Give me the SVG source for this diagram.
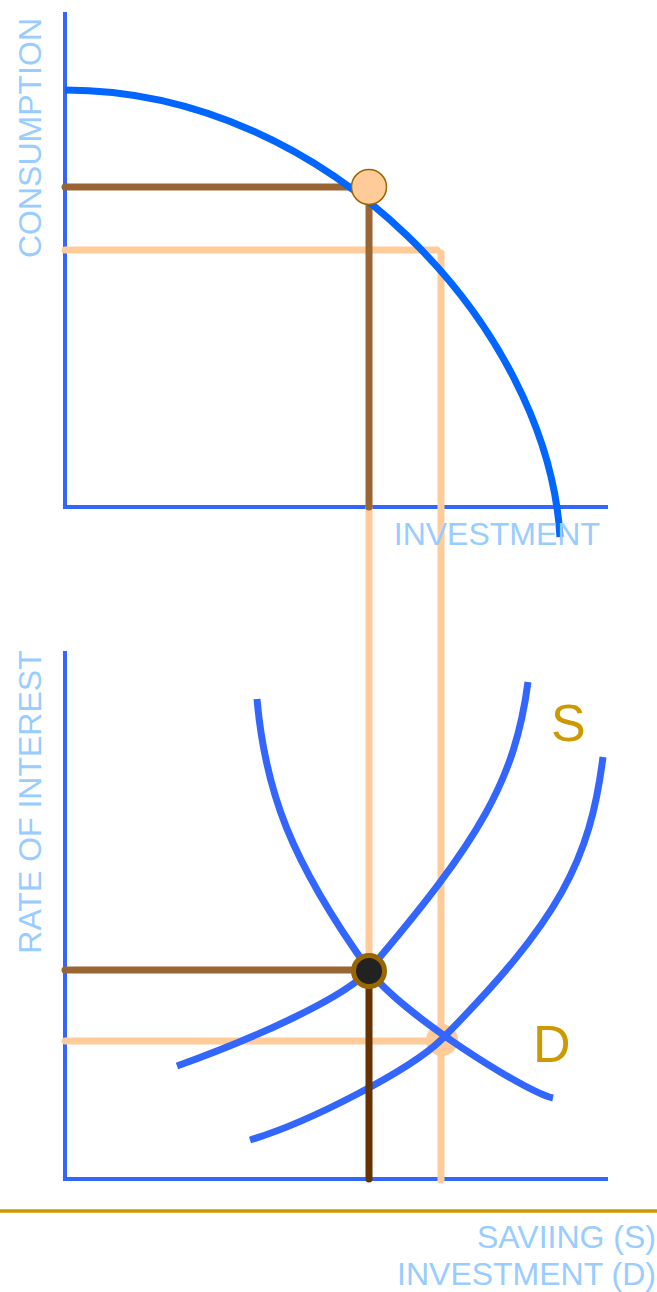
<svg xmlns="http://www.w3.org/2000/svg" width="657" height="1292" viewBox="0 0 657 1292">
<style>
.axis{stroke:#3366ff;stroke-width:4;fill:none}
.lbl{font-family:"Liberation Sans",Arial,sans-serif;font-size:32px;fill:#99ccff}
.cl{font-family:"Liberation Sans",Arial,sans-serif;font-size:52px;fill:#cc9900}
.lo{stroke:#ffcc99;stroke-width:7;fill:none;stroke-linecap:round}
.br{stroke:#996633;stroke-width:7;fill:none;stroke-linecap:round}
.dbr{stroke:#663300;stroke-width:7;fill:none;stroke-linecap:round}
.crv{stroke:#3366ff;stroke-width:7;fill:none}
</style>
<rect width="657" height="1292" fill="#ffffff"/>
<g id="axes">
<path class="axis" d="M65,12 V507 H608"/>
<path class="axis" d="M65,651 V1179 H608"/>
<line x1="0" y1="1211" x2="657" y2="1211" stroke="#cc9900" stroke-width="3.5"/>
</g>
<g id="connectors">
<line class="lo" x1="65" y1="250" x2="437" y2="250"/>
<line class="lo" x1="441" y1="253" x2="441" y2="1180"/>
<line class="lo" x1="369" y1="507" x2="369" y2="970"/>
<line class="lo" x1="65" y1="1041" x2="441" y2="1041"/>
<line class="br" x1="65" y1="187" x2="369" y2="187"/>
<line class="br" x1="369" y1="187" x2="369" y2="507"/>
<line class="br" x1="65" y1="970" x2="369" y2="970"/>
</g>
<g id="ppf">
<path d="M65,90 C330,90 548,330 560,537" stroke="#0066ff" stroke-width="7" fill="none"/>
</g>
<g id="point-top">
<circle cx="369" cy="187" r="17.5" fill="#ffcc99" stroke="#996600" stroke-width="1.5"/>
</g>
<g id="point-new">
<circle cx="442" cy="1040" r="16" fill="#ffcc99"/>
</g>
<g id="curve-d">
<path class="crv" d="M257,699 C265,790 290,860 369,970 C400,1013 525,1092 553,1098"/>
</g>
<g id="curve-s1">
<path class="crv" d="M528,682 C515,780 480,840 369,970 C345,998 250,1040 177,1066"/>
</g>
<g id="curve-s2">
<path class="crv" d="M603,757 C590,860 560,920 441,1040 C410,1070 310,1122 250,1140"/>
</g>
<g id="drop">
<line class="dbr" x1="369" y1="970" x2="369" y2="1179"/>
</g>
<g id="point-eq">
<circle cx="369" cy="971" r="15.5" fill="#222222" stroke="#996600" stroke-width="5"/>
</g>
<g id="labels">
<text class="lbl" x="41" y="138" text-anchor="middle" transform="rotate(-90 41 138)">CONSUMPTION</text>
<text class="lbl" x="41" y="802" text-anchor="middle" transform="rotate(-90 41 802)">RATE OF INTEREST</text>
<text class="lbl" x="600" y="545" text-anchor="end">INVESTMENT</text>
<text class="lbl" x="656" y="1248" text-anchor="end" font-size="31">SAVIING (S)</text>
<text class="lbl" x="656" y="1285" text-anchor="end" font-size="31">INVESTMENT (D)</text>
<text class="cl" x="551" y="741">S</text>
<text class="cl" x="533" y="1062">D</text>
</g>
</svg>
